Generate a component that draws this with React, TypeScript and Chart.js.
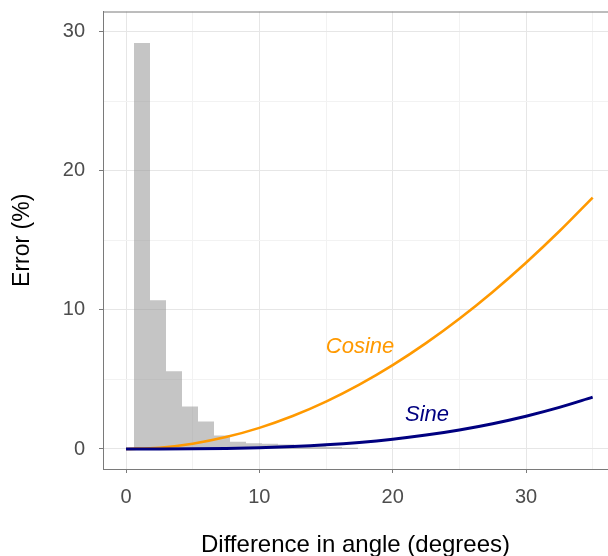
import React, { useEffect, useRef } from "react";
import { Chart, registerables } from "chart.js";

Chart.register(...registerables);

// Histogram bin edges (degrees) and heights (%)
const binEdges = [0.6, 1.8, 3.0, 4.2, 5.4, 6.6, 7.8, 9.0, 10.2, 11.4, 12.6, 13.8, 15.0, 16.2, 17.4];
const binValues = [29.2, 10.7, 5.6, 3.05, 1.97, 0.97, 0.53, 0.42, 0.38, 0.33, 0.26, 0.2, 0.14, 0.09];

// Curve samples (degrees)
const angles = [0, 2.5, 5, 7.5, 10, 12.5, 15, 17.5, 20, 22.5, 25, 27.5, 30, 32.5, 35];
const cosineError = [0, 0.095, 0.381, 0.856, 1.519, 2.37, 3.407, 4.628, 6.031, 7.612, 9.369, 11.296, 13.397, 15.66, 18.085];
const sineError = [0, 0.0014, 0.011, 0.037, 0.089, 0.173, 0.298, 0.473, 0.705, 1.002, 1.371, 1.822, 2.36, 2.993, 3.729];

const xTitle = "Difference in angle (degrees)";
const yTitle = "Error (%)";
const curveLabels = [
  { text: "Cosine", x: 17.55, y: 6.9, color: "#FF9900" },
  { text: "Sine", x: 22.58, y: 2.0, color: "#000080" },
];

const FONT = "'Liberation Sans', Arial, sans-serif";

export default function App() {
  const ref = useRef<HTMLCanvasElement | null>(null);

  useEffect(() => {
    if (!ref.current) return;
    const histData = binEdges.map((e, i) => ({ x: e, y: i < binValues.length ? binValues[i] : 0 }));
    const cosData = angles.map((a, i) => ({ x: a, y: cosineError[i] }));
    const sinData = angles.map((a, i) => ({ x: a, y: sineError[i] }));

    const decor = {
      id: "decor",
      afterDraw(chart: any) {
        const { ctx, chartArea, scales } = chart;
        ctx.save();
        ctx.strokeStyle = "#7a7a7a";
        ctx.lineWidth = 1;
        ctx.beginPath();
        ctx.moveTo(chartArea.left, chartArea.top + 0.5);
        ctx.lineTo(chartArea.right, chartArea.top + 0.5);
        ctx.stroke();
        ctx.font = `italic 22px ${FONT}`;
        ctx.textAlign = "center";
        ctx.textBaseline = "alphabetic";
        for (const l of curveLabels) {
          ctx.fillStyle = l.color;
          ctx.fillText(l.text, scales.x.getPixelForValue(l.x), scales.y.getPixelForValue(l.y));
        }
        ctx.restore();
      },
    };

    const gridColor = (c: any) => (Math.abs(c.tick.value % 10) < 1e-6 ? "#e6e6e6" : "#f2f2f2");
    const tickColor = (c: any) => (Math.abs(c.tick.value % 10) < 1e-6 ? "#7a7a7a" : "rgba(0,0,0,0)");
    const label = (v: any) => (Math.abs(Number(v) % 10) < 1e-6 ? String(v) : "");

    const chart = new Chart(ref.current, {
      type: "line",
      data: {
        datasets: [
          {
            data: histData,
            stepped: "before",
            fill: "origin",
            backgroundColor: "rgba(150,150,150,0.55)",
            borderWidth: 0,
            borderColor: "rgba(0,0,0,0)",
            pointRadius: 0,
            order: 3,
          } as any,
          {
            data: cosData,
            borderColor: "#FF9900",
            borderWidth: 2.6,
            pointRadius: 0,
            cubicInterpolationMode: "monotone",
            fill: false,
            order: 2,
          },
          {
            data: sinData,
            borderColor: "#000080",
            borderWidth: 3,
            pointRadius: 0,
            cubicInterpolationMode: "monotone",
            fill: false,
            order: 1,
          },
        ],
      },
      options: {
        responsive: false,
        animation: false,
        devicePixelRatio: 1,
        layout: { padding: { top: 11.5, right: 0, bottom: 0, left: 0 } },
        plugins: { legend: { display: false }, tooltip: { enabled: false } },
        scales: {
          x: {
            type: "linear",
            min: -1.725,
            max: 36.15,
            grid: { color: gridColor, tickColor: tickColor, tickLength: 4, lineWidth: 1 },
            border: { color: "#7a7a7a", width: 1 },
            ticks: {
              stepSize: 5,
              includeBounds: false,
              autoSkip: false,
              maxRotation: 0,
              padding: 12,
              color: "#4d4d4d",
              font: { family: FONT, size: 20 },
              callback: label,
            },
            title: {
              display: true,
              text: xTitle,
              color: "#000000",
              font: { family: FONT, size: 24, lineHeight: 1 },
              padding: { top: 0, bottom: -1 },
            },
            afterFit: (s: any) => {
              s.height = 87;
              s.paddingLeft = 0;
              s.paddingRight = 0;
            },
          },
          y: {
            type: "linear",
            min: -1.439,
            max: 31.47,
            grid: { color: gridColor, tickColor: tickColor, tickLength: 4, lineWidth: 1 },
            border: { color: "#7a7a7a", width: 1 },
            ticks: {
              stepSize: 5,
              includeBounds: false,
              autoSkip: false,
              padding: 14,
              color: "#4d4d4d",
              font: { family: FONT, size: 20 },
              callback: label,
            },
            title: {
              display: true,
              text: yTitle,
              color: "#000000",
              font: { family: FONT, size: 23, lineHeight: 1 },
              padding: { top: 11, bottom: 0 },
            },
            afterFit: (s: any) => {
              s.width = 103;
              s.paddingTop = 0;
              s.paddingBottom = 0;
            },
          },
        },
      },
      plugins: [decor],
    } as any);
    return () => chart.destroy();
  }, []);

  return (
    <div style={{ position: "fixed", left: 0, top: 0, width: 608, height: 556, background: "#fff" }}>
      <canvas ref={ref} width={608} height={556} style={{ display: "block" }} />
    </div>
  );
}
